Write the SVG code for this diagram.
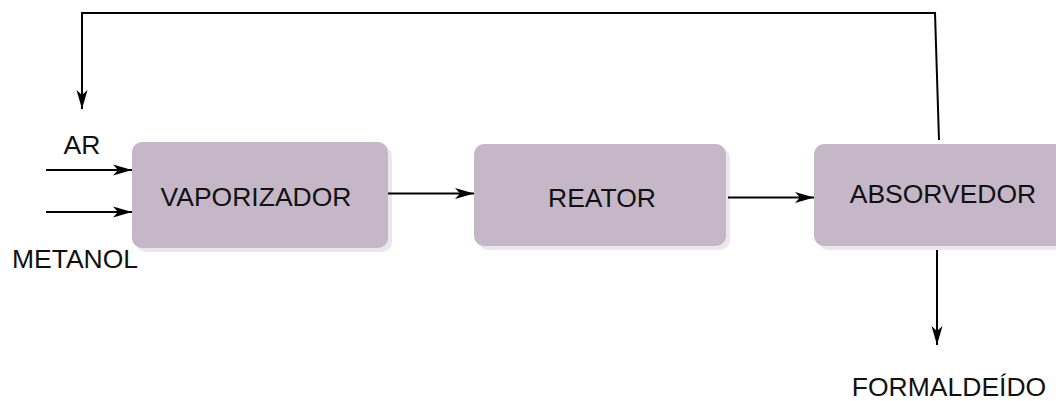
<svg xmlns="http://www.w3.org/2000/svg" width="1056" height="401" viewBox="0 0 1056 401">
<style>
.box{fill:#c5b7c8}
.shadow{fill:#ebe7ed}
.lbl{font-family:"Liberation Sans",Arial,sans-serif;font-size:26.5px;fill:#111}
.ln{stroke:#000;stroke-width:2;fill:none}
</style>
<defs>
<marker id="ah" markerWidth="20" markerHeight="12" refX="19" refY="6" orient="auto" markerUnits="userSpaceOnUse" viewBox="0 0 20 12">
<path d="M0,0.5 L19,6 L0,11.5 L5,6 Z" fill="#000"/>
</marker>
</defs>
<rect width="1056" height="401" fill="#fff"/>
<g id="vaporizador">
<rect class="shadow" x="136" y="146" width="256" height="106" rx="10"/>
<rect class="box" x="132" y="142" width="256" height="106" rx="10"/>
<text class="lbl" x="256" y="206" text-anchor="middle">VAPORIZADOR</text>
</g>
<g id="reator">
<rect class="shadow" x="478" y="148" width="252" height="102" rx="10"/>
<rect class="box" x="474" y="144" width="252" height="102" rx="10"/>
<text class="lbl" x="602" y="207" text-anchor="middle">REATOR</text>
</g>
<g id="absorvedor">
<rect class="shadow" x="818" y="148" width="260" height="102" rx="10"/>
<rect class="box" x="814" y="144" width="260" height="102" rx="10"/>
<text class="lbl" x="943" y="203" text-anchor="middle">ABSORVEDOR</text>
</g>
<g id="labels">
<text class="lbl" x="82" y="154" text-anchor="middle">AR</text>
<text class="lbl" x="75" y="268" text-anchor="middle">METANOL</text>
<text class="lbl" x="949" y="396" text-anchor="middle">FORMALDEÍDO</text>
</g>
<g id="connectors">
<line class="ln" x1="46" y1="170" x2="132" y2="170" marker-end="url(#ah)"/>
<line class="ln" x1="46" y1="212" x2="132" y2="212" marker-end="url(#ah)"/>
<line class="ln" x1="388" y1="193.5" x2="474" y2="193.5" marker-end="url(#ah)"/>
<line class="ln" x1="728" y1="197.5" x2="814" y2="197.5" marker-end="url(#ah)"/>
<line class="ln" x1="937" y1="250" x2="937" y2="345" marker-end="url(#ah)"/>
<polyline class="ln" points="939,140 935,13 82,13 82,109" stroke-width="1.8" marker-end="url(#ah)"/>
</g>
</svg>
